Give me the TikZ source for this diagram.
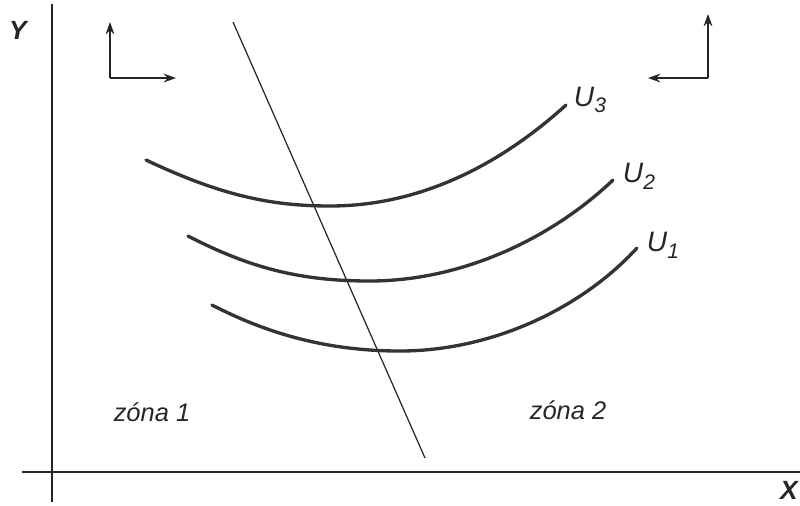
\documentclass[tikz,border=0pt]{standalone}
\usepackage{fontspec}
\setmainfont{Liberation Sans}
\usetikzlibrary{arrows.meta}
\begin{document}
\begin{tikzpicture}[x=0.02cm,y=-0.02cm,
  axis/.style={line width=0.85pt, black!85},
  curve/.style={line width=1.9pt, black!80, line cap=round},
  divider/.style={line width=0.7pt, black!85},
  dirarrow/.style={line width=0.8pt, black!85, -{Stealth[length=7pt,width=5pt]}},
  lbl/.style={font=\itshape\fontsize{14.5}{16}\selectfont, text=black!85, inner sep=0pt},
  axlbl/.style={font=\bfseries\itshape\fontsize{15}{17}\selectfont, text=black!85, inner sep=0pt},
  ulbl/.style={font=\itshape\fontsize{16}{18}\selectfont, text=black!85, inner sep=0pt}]
\useasboundingbox (0,0) rectangle (800,505);
% axes
\coordinate (ytop) at (52,4);
\coordinate (ybot) at (52,502);
\coordinate (xleft) at (22,472);
\coordinate (xright) at (800,472);
\draw[axis] (ytop) -- (ybot);
\draw[axis] (xleft) -- (xright);
\node[axlbl] (ylab) at (18,30) {Y};
\node[axlbl] (xlab) at (789,490) {X};
% direction arrows
\coordinate (lc) at (110,78);
\coordinate (lu) at (110,22);
\coordinate (lr) at (176,78);
\draw[dirarrow] (lc) -- (lu);
\draw[dirarrow] (lc) -- (lr);
\coordinate (rc) at (708,78);
\coordinate (ru) at (708,14);
\coordinate (rl) at (648,78);
\draw[dirarrow] (rc) -- (ru);
\draw[dirarrow] (rc) -- (rl);
% divider
\coordinate (dtop) at (233,22);
\coordinate (dbot) at (425,458);
\draw[divider] (dtop) -- (dbot);
% indifference curves
\draw[curve] (146,160) .. controls (220,195) and (270,206) .. (330,206) .. controls (420,206) and (500,165) .. (566,105);
\draw[curve] (188,236) .. controls (250,268) and (300,281) .. (370,281) .. controls (460,281) and (550,240) .. (613,180);
\draw[curve] (212,305) .. controls (270,335) and (330,351) .. (400,351) .. controls (490,351) and (580,310) .. (637,248);
\node[ulbl] (u3) at (590,100) {U\raisebox{-0.45ex}{\fontsize{12}{14}\selectfont 3}};
\node[ulbl] (u2) at (639,176) {U\raisebox{-0.45ex}{\fontsize{12}{14}\selectfont 2}};
\node[ulbl] (u1) at (663,245) {U\raisebox{-0.45ex}{\fontsize{12}{14}\selectfont 1}};
% zones
\node[lbl] (z1) at (152,412) {zóna 1};
\node[lbl] (z2) at (568,410) {zóna 2};
\end{tikzpicture}
\end{document}
